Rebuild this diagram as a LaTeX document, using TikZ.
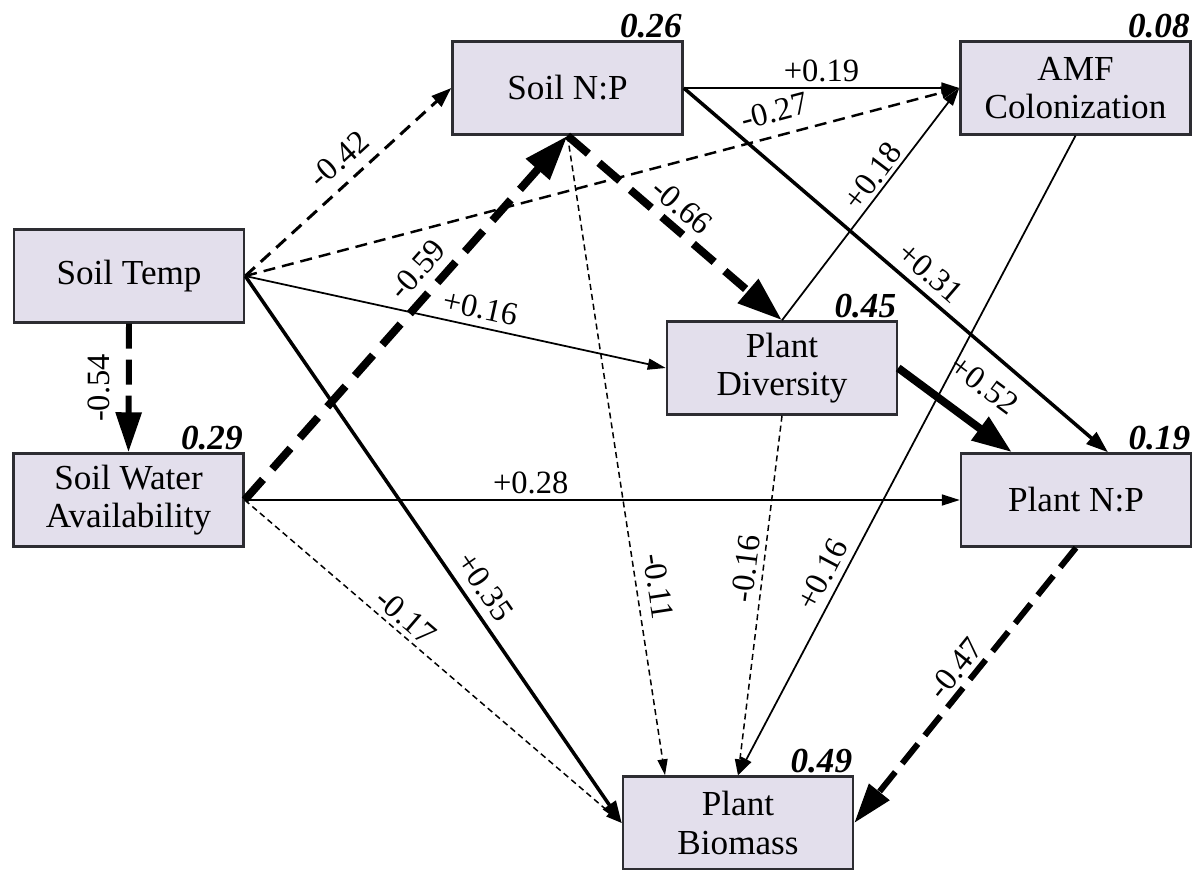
\documentclass[tikz,border=0pt]{standalone}
\usepackage{fontspec}
\setmainfont{Liberation Serif}
\definecolor{lila}{RGB}{227,223,236}
\definecolor{borde}{RGB}{45,45,50}
\usepackage{tikz}
\usetikzlibrary{arrows.meta}

\begin{document}
\begin{tikzpicture}[
        box/.style={draw=borde,fill=lila,line width=1.4pt,
                    font=\fontsize{20}{22}\selectfont,align=center,inner sep=0pt,
                    minimum width=4.6cm,minimum height=1.86cm},
        r2/.style={anchor=south east,inner sep=1pt,
                   font=\fontsize{20}{22}\selectfont\bfseries\itshape},
        lbl/.style={inner sep=4pt,font=\fontsize{18.5}{20}\selectfont},
        sthin/.style={line width=1pt,-{Triangle[length=0.36cm,width=0.22cm]}},
        smed/.style={line width=2pt,-{Triangle[length=0.44cm,width=0.3cm]}},
        shuge/.style={line width=4.5pt,-{Triangle[length=0.8cm,width=0.55cm]}},
        dfine/.style={line width=0.85pt,dash pattern=on 0.12cm off 0.08cm,
                      -{Triangle[length=0.32cm,width=0.2cm]}},
        dthin/.style={line width=1.4pt,dash pattern=on 0.24cm off 0.14cm,
                      -{Triangle[length=0.36cm,width=0.24cm]}},
        dmed/.style={line width=1.7pt,dash pattern=on 0.26cm off 0.16cm,
                     -{Triangle[length=0.4cm,width=0.28cm]}},
        dbig/.style={line width=3.4pt,dash pattern=on 0.5cm off 0.22cm,
                     -{Triangle[length=0.8cm,width=0.5cm]}},
        dhuge/.style={line width=4.5pt,dash pattern=on 0.55cm off 0.28cm,
                      -{Triangle[length=0.9cm,width=0.6cm]}}]
        \useasboundingbox (0,0) rectangle (23.86,-17.4);
        % variables
        \node[box] (st)  at ( 2.58, -5.52) {Soil Temp};
        \node[box] (swa) at ( 2.57,-10.00) {Soil Water\\Availability};
        \node[box] (snp) at (11.35, -1.76) {Soil N:P};
        \node[box] (amf) at (21.51, -1.76) {AMF\\Colonization};
        \node[box] (pd)  at (15.64, -7.36) {Plant\\Diversity};
        \node[box] (pnp) at (21.52,-10.00) {Plant N:P};
        \node[box] (pb)  at (14.76,-16.46) {Plant\\Biomass};
        % R^2
        \node[r2] (r2swa) at (swa.north east) {0.29};
        \node[r2] (r2snp) at (snp.north east) {0.26};
        \node[r2] (r2amf) at (amf.north east) {0.08};
        \node[r2] (r2pd)  at (pd.north east)  {0.45};
        \node[r2] (r2pnp) at (pnp.north east) {0.19};
        \node[r2] (r2pb)  at (pb.north east)  {0.49};
        % paths
        \draw[dbig] (st.south) -- (swa.north)
          node[lbl,midway,anchor=south,rotate=90,inner sep=9pt] {-0.54};
        \draw[dmed] (st.east) -- (snp.west)
          node[lbl,sloped,above,pos=0.53,inner sep=6pt] {-0.42};
        \draw[dthin] (st.east) -- (amf.west)
          node[lbl,sloped,above,pos=0.75,inner sep=7pt] {-0.27};
        \draw[sthin] (st.east) -- (pd.west) node[lbl,sloped,above,pos=0.55] {+0.16};
        \draw[smed] (st.east) -- (pb.west)
          node[lbl,sloped,above,pos=0.59,inner sep=5pt] {+0.35};
        \draw[dhuge] (swa.east) -- (snp.south)
          node[lbl,sloped,above,pos=0.59,inner sep=5pt] {-0.59};
        \draw[sthin] (swa.east) -- (pnp.west)
          node[lbl,above,pos=0.4,inner sep=3pt] {+0.28};
        \draw[dfine] (swa.east) -- (pb.west)
          node[lbl,sloped,above,pos=0.4,inner sep=2.5pt] {-0.17};
        \draw[sthin] (snp.east) -- (amf.west) node[lbl,above,midway,inner sep=3pt] {+0.19};
        \draw[smed] (snp.east) -- ([xshift=0.64cm]pnp.north)
          node[lbl,sloped,above,pos=0.55,inner sep=4.5pt] {+0.31};
        \draw[dhuge] (snp.south) -- (pd.north)
          node[lbl,sloped,above,pos=0.47,inner sep=3.5pt] {-0.66};
        \draw[dfine] (snp.south) -- ([xshift=-1.46cm]pb.north)
          node[lbl,sloped,above,pos=0.71,inner sep=6pt] {-0.11};
        \draw[sthin] (pd.north) -- (amf.west)
          node[lbl,sloped,above,pos=0.58,inner sep=2pt] {+0.18};
        \draw[shuge] (pd.east) -- ([xshift=-1.28cm]pnp.north)
          node[lbl,sloped,above,pos=0.56,inner sep=13pt] {+0.52};
        \draw[dfine] (pd.south) -- (pb.north)
          node[lbl,sloped,above,pos=0.43,inner sep=3pt] {-0.16};
        \draw[sthin] (amf.south) -- (pb.north) node[lbl,sloped,above,pos=0.7] {+0.16};
        \draw[dbig] (pnp.south) -- (pb.east)
          node[lbl,sloped,above,pos=0.48,inner sep=2.5pt] {-0.47};
      \end{tikzpicture}
\end{document}
